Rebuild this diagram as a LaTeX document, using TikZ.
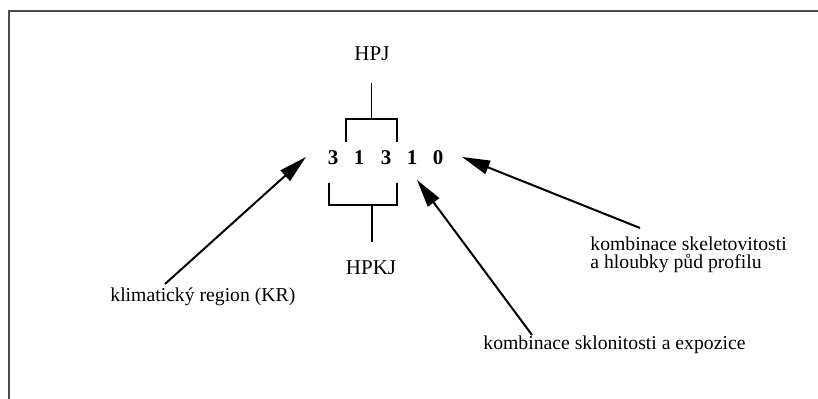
\documentclass[tikz,border=0pt]{standalone}
\usepackage{fontspec}
\setmainfont{Liberation Serif}
\usetikzlibrary{positioning, arrows.meta}

\tikzset{
  digit/.style={font=\fontsize{10.5}{11}\selectfont\bfseries, inner sep=1pt},
  caption/.style={font=\fontsize{9.85}{9}\selectfont, inner sep=0pt, align=left},
  unit/.style={font=\fontsize{10.5}{12}\selectfont, inner sep=0pt},
  pointer/.style={-{Triangle[length=14pt,width=7pt]}, line width=1pt},
  bracket/.style={line width=0.65pt},
  frame/.style={draw=black!70, line width=1pt}
}

\begin{document}
\begin{tikzpicture}[x=0.5pt, y=-0.5pt]
\useasboundingbox (0,0) rectangle (818,399);
\draw[frame] (818,11.5) -- (8.5,11.5) -- (8.5,399);

% the code
\node[digit] (d1) at (333,158) {3};
\node[digit] (d2) at (359,158) {1};
\node[digit] (d3) at (386,158) {3};
\node[digit] (d4) at (412,158) {1};
\node[digit] (d5) at (438,158) {0};

% units
\node[unit] (hpj) at (372,54) {HPJ};
\node[unit] (hpkj) at (371,268) {HPKJ};
\draw[bracket] (346,142) -- (346,119) -- (397,119) -- (397,142);
\draw[bracket] (371.5,119) -- (371.5,83);
\draw[bracket] (329,183) -- (329,205) -- (397,205) -- (397,183);
\draw[bracket] (372,205) -- (372,242);

% captions
\node[caption, anchor=west] (kr) at (110,297) {klimatický region (KR)};
\node[caption, anchor=west] (sklon) at (483,345) {kombinace sklonitosti a expozice};
\node[caption, anchor=north west] (skelet) at (590,236) {kombinace skeletovitosti\\a hloubky půd profilu};

\coordinate (krtail) at (165,284);
\coordinate (krtip) at (306,157);
\coordinate (sklontail) at (532,335);
\coordinate (sklontip) at (417,180);
\coordinate (skelettail) at (640,228);
\coordinate (skelettip) at (462,157);

\draw[pointer] (krtail) -- (krtip);
\draw[pointer] (sklontail) -- (sklontip);
\draw[pointer] (skelettail) -- (skelettip);
\end{tikzpicture}
\end{document}
